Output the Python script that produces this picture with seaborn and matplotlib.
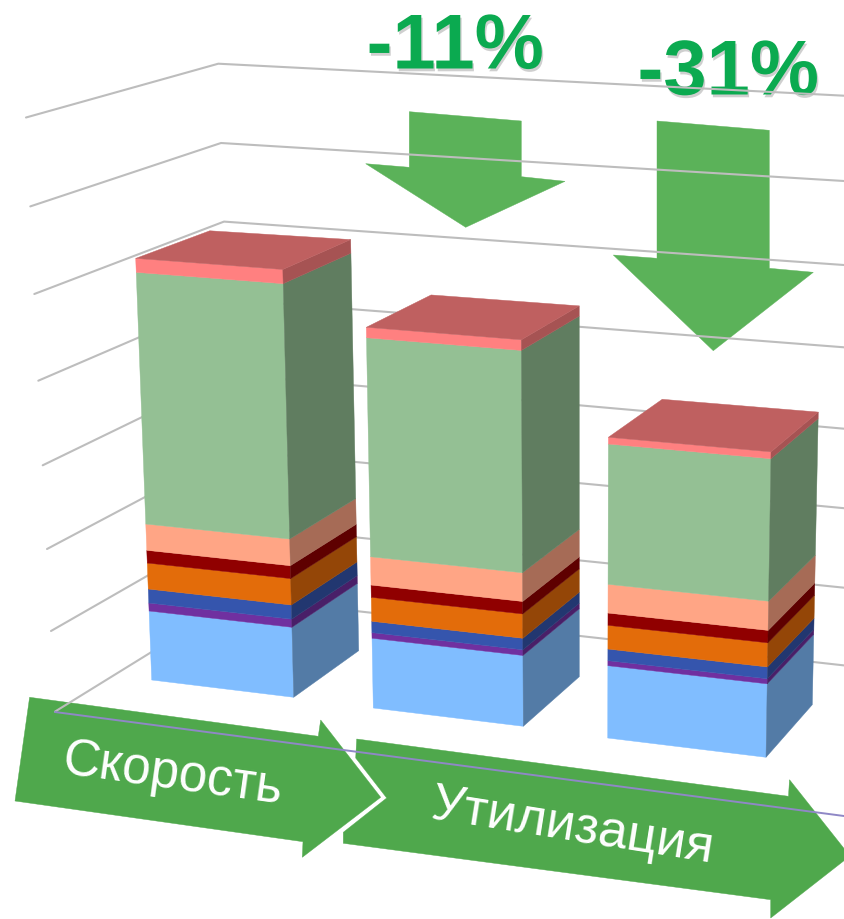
import matplotlib
matplotlib.use("Agg")
import matplotlib.pyplot as plt
import matplotlib.patheffects as pe
from matplotlib.patches import Polygon
import pandas as pd
import seaborn as sns

# values, in gridline units (one step between gridlines = 1)
bars = ["bar 1", "bar 2", "bar 3"]
light_blue = [0.879, 0.868, 0.878]
purple = [0.102, 0.070, 0.061]
royal = [0.178, 0.141, 0.141]
orange = [0.331, 0.298, 0.288]
dark_red = [0.162, 0.153, 0.149]
salmon = [0.335, 0.352, 0.349]
green = [3.206, 2.725, 1.703]
pink = [0.178, 0.130, 0.082]
segments = [light_blue, purple, royal, orange, dark_red, salmon, green, pink]
segment_colors = ["#80BDFF", "#7030A0", "#3555AD", "#E36C0A", "#900000", "#FFA585", "#94C094", "#FF8080"]

change_labels = ["-11%", "-31%"]
stage_labels = ["Скорость", "Утилизация"]

# camera of the 3D view, in pixels
PX_PER_UNIT = 78.5
VANISH = (581, 12000)
# floor corners of each bar: front left, front right, back right, back left
FOOTPRINTS = [
    [(151.7, 681), (293.7, 698.3), (358.7, 651.7), (222.6, 638)],
    [(373.3, 709), (523.3, 727.3), (579.3, 677.7), (435.8, 661.7)],
    [(607.7, 739), (766, 758.3), (812.3, 705.7), (660.2, 688.8)],
]

# wall gridlines: left end, corner, right end
grid_left_x = [26, 30.3, 34.3, 38.3, 42.7, 47, 51, 55]
grid_left_y = [118.5, 207.4, 295, 381.7, 466.3, 550, 632, 712.6]
grid_mid_x = [218.3, 221, 224, 227, 230, 233, 236, 239]
grid_mid_y = [64.7, 144, 222.6, 300.5, 375.4, 451.4, 526, 599]
grid_right_y = [96.7, 182, 266, 348.3, 429.7, 509.2, 588.7, 666.4]


def project(corner, value):
    # lift a floor corner up by value, edges lean to the vanishing point
    x0, y0 = corner
    scale = 1 + 0.00085 * (y0 - 681)
    h = value * PX_PER_UNIT * scale
    lean = (VANISH[0] - x0) / (VANISH[1] - y0)
    return (x0 - lean * h, y0 - h)


def shade(color, factor):
    r, g, b = matplotlib.colors.to_rgb(color)
    return (r * factor, g * factor, b * factor)


def face(ax, points, color, z=4):
    ax.add_patch(Polygon(points, closed=True, facecolor=color, edgecolor=color, linewidth=0.3, zorder=z))


sns.set_theme(style="white")
plt.rcParams["font.family"] = ["Liberation Sans", "DejaVu Sans"]

fig = plt.figure(figsize=(8.44, 9.2), dpi=100)

# seaborn works out the stacks on a hidden axes, the rectangles are then put into the 3D view
ax_data = fig.add_axes([0, 0, 1, 1])
palette = sns.color_palette(segment_colors)
bottom = [0.0, 0.0, 0.0]
for vals, col in zip(segments, palette):
    df = pd.DataFrame({"bar": bars, "value": vals})
    sns.barplot(data=df, x="bar", y="value", color=col, saturation=1, errorbar=None, bottom=bottom, ax=ax_data)
    bottom = [b + v for b, v in zip(bottom, vals)]
ax_data.set_visible(False)

ax = fig.add_axes([0, 0, 1, 1])
ax.set_xlim(0, 844)
ax.set_ylim(920, 0)
ax.axis("off")

# gridlines
grid_rows = []
for k in range(len(grid_left_x)):
    grid_rows.append({"k": k, "order": 0, "x": grid_left_x[k], "y": grid_left_y[k]})
    grid_rows.append({"k": k, "order": 1, "x": grid_mid_x[k], "y": grid_mid_y[k]})
    grid_rows.append({"k": k, "order": 2, "x": 844, "y": grid_right_y[k]})
grid_df = pd.DataFrame(grid_rows)
sns.lineplot(data=grid_df, x="x", y="y", units="k", estimator=None, sort=False, color="#BDBDBD",
             linewidth=1.5, legend=False, ax=ax, zorder=3)
ax.set_xlim(0, 844)
ax.set_ylim(920, 0)

# bars
tops = [sum(s[i] for s in segments) for i in range(len(bars))]
for container, col in zip(ax_data.containers, segment_colors):
    for rect in container:
        i = int(round(rect.get_x() + rect.get_width() / 2))
        v0 = rect.get_y()
        v1 = v0 + rect.get_height()
        fl, fr, br, bl = FOOTPRINTS[i]
        face(ax, [project(fl, v0), project(fr, v0), project(fr, v1), project(fl, v1)], col)
        face(ax, [project(fr, v0), project(br, v0), project(br, v1), project(fr, v1)], shade(col, 0.65))
        if abs(v1 - tops[i]) < 1e-6:
            face(ax, [project(fl, v1), project(fr, v1), project(br, v1), project(bl, v1)], shade(col, 0.75))

# down arrows
arrow_color = "#5BB259"
face(ax, [(409.3, 112.7), (521.3, 122), (521.3, 177.7), (565, 182.3), (465.7, 228.3), (365.7, 164.7), (409.3, 168.3)],
     arrow_color, z=2)
face(ax, [(657, 122), (769.3, 131.3), (769.3, 269.3), (813.3, 273.3), (713.3, 351.7), (613.3, 256), (657, 259.3)],
     arrow_color, z=2)

# stage arrows
stage_color = "#4FA84C"
face(ax, [(29.6, 698.3), (318.3, 737.3), (320.7, 721), (380.7, 798.3), (302.3, 858.3), (303, 842.7), (15, 802)],
     stage_color, z=2)
face(ax, [(356.7, 740), (788.5, 797.3), (789.5, 780.7), (850, 857), (770.7, 919), (770.7, 900.7), (343.3, 844.3),
          (343.3, 833.3), (386.7, 799), (355.7, 759)], stage_color, z=2)

# floor lines
ax.plot([55, 844], [713, 817], color="#8F88C6", linewidth=1.4, zorder=5)

# texts
shadow = [pe.withSimplePatchShadow(offset=(1, -2), shadow_rgbFace="#777777", alpha=0.35)]
ax.text(455, 49, change_labels[0], fontsize=56, fontweight="bold", color="#0BAA50", ha="center", va="center",
        zorder=1, path_effects=shadow)
ax.text(728, 75, change_labels[1], fontsize=56, fontweight="bold", color="#0BAA50", ha="center", va="center",
        zorder=1, path_effects=shadow)
ax.text(173, 775, stage_labels[0], fontsize=37, color="white", ha="center", va="center", rotation=-8,
        rotation_mode="anchor", zorder=6)
ax.text(573, 827, stage_labels[1], fontsize=37.5, color="white", ha="center", va="center", rotation=-9,
        rotation_mode="anchor", zorder=6)

plt.savefig("out.png", dpi=100)
